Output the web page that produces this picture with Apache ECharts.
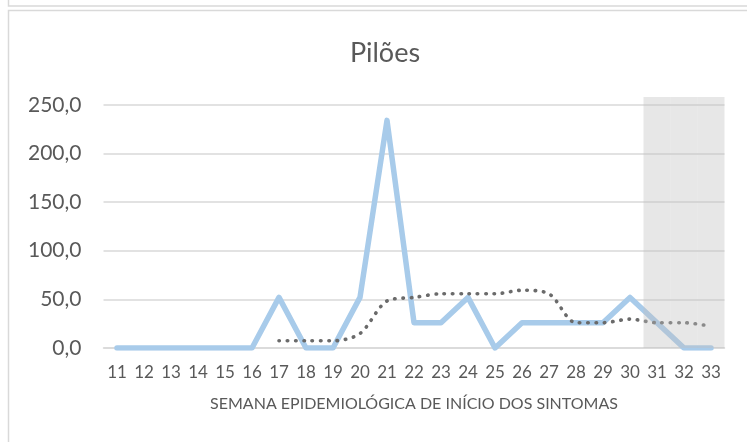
<!DOCTYPE html>
<html>
<head>
<meta charset="utf-8">
<script src="https://cdn.jsdelivr.net/npm/echarts@6/dist/echarts.min.js"></script>
<style>
  html, body { margin: 0; padding: 0; background: #ffffff; }
  #chart { width: 747px; height: 442px; }
</style>
</head>
<body>
<div id="chart"></div>
<script>
// Epidemiological weeks of symptom onset
const weeks = ['11','12','13','14','15','16','17','18','19','20','21','22','23','24','25','26','27','28','29','30','31','32','33'];
// Weekly incidence for Pilões
const incidence = [0, 0, 0, 0, 0, 0, 52.0, 0, 0, 52.0, 234.0, 26.0, 26.0, 52.0, 0, 26.0, 26.0, 26.0, 26.0, 52.0, 26.0, 0, 0];
// 7-week moving average trend (starts at week 17)
const movingAvg = [null, null, null, null, null, null, 7.4, 7.4, 7.4, 14.9, 48.3, 52.0, 55.7, 55.7, 55.7, 59.4, 55.7, 26.0, 26.0, 29.7, 26.0, 26.0, 22.3];
// Weeks still open for notification (shaded)
const openWeeks = [null, null, null, null, null, null, null, null, null, null, null, null, null, null, null, null, null, null, null, null, 1, 1, 1];
// Value axis ticks
const yTicks = [0, 50, 100, 150, 200, 250];

const textColor = '#595959';
const fontFamily = 'Lato, "Open Sans", sans-serif';

const chart = echarts.init(document.getElementById('chart'), null, { renderer: 'canvas' });

chart.setOption({
  animation: false,
  backgroundColor: '#ffffff',
  textStyle: { fontFamily: fontFamily, color: textColor },
  title: {
    text: 'Pilões',
    left: 380,
    textAlign: 'center',
    top: 35,
    textStyle: { fontFamily: fontFamily, fontSize: 27, fontWeight: 'normal', color: textColor }
  },
  graphic: [
    { type: 'rect', shape: { x: 8.5, y: -10, width: 760, height: 16 }, style: { fill: 'none', stroke: '#d9d9d9', lineWidth: 1.5 }, silent: true },
    { type: 'rect', shape: { x: 8.5, y: 10.5, width: 760, height: 460 }, style: { fill: 'none', stroke: '#d9d9d9', lineWidth: 1.5 }, silent: true }
  ],
  grid: { left: 103.5, right: 22.5, top: 97, bottom: 94, containLabel: false },
  xAxis: {
    type: 'category',
    data: weeks,
    boundaryGap: true,
    axisLine: { show: true, lineStyle: { color: '#d9d9d9', width: 1.5 } },
    axisTick: { show: false },
    axisLabel: { color: textColor, fontSize: 17, margin: 16, fontFamily: fontFamily },
    name: 'SEMANA EPIDEMIOLÓGICA DE INÍCIO DOS SINTOMAS',
    nameLocation: 'middle',
    nameGap: 48,
    nameTextStyle: { color: textColor, fontSize: 16, fontFamily: fontFamily }
  },
  yAxis: [
    {
      type: 'value',
      min: yTicks[0],
      max: 258,
      interval: yTicks[1] - yTicks[0],
      axisLine: { show: false },
      axisTick: { show: false },
      axisLabel: {
        color: textColor,
        fontSize: 21,
        margin: 22,
        fontFamily: fontFamily,
        showMaxLabel: false,
        formatter: v => v.toFixed(1).replace('.', ',')
      },
      splitLine: { show: true, showMaxLine: false, lineStyle: { color: '#d9d9d9', width: 1.5 } }
    },
    { type: 'value', min: 0, max: 1, show: false, splitLine: { show: false } }
  ],
  series: [
    {
      name: 'Pilões',
      type: 'line',
      data: incidence,
      symbol: 'none',
      z: 2,
      lineStyle: { color: '#a8cbea', width: 5.5, cap: 'round', join: 'round' }
    },
    {
      name: 'Média móvel',
      type: 'line',
      data: movingAvg,
      symbol: 'none',
      smooth: 0.3,
      z: 2,
      lineStyle: { color: '#6a6a6a', width: 3.6, type: [0.5, 7.8], cap: 'round' }
    },
    {
      name: 'Semanas em aberto',
      type: 'bar',
      yAxisIndex: 1,
      data: openWeeks,
      barWidth: '100%',
      barGap: '0%',
      barCategoryGap: '0%',
      silent: true,
      z: 3,
      itemStyle: { color: 'rgba(191,191,191,0.375)' }
    }
  ]
});
</script>
</body>
</html>
